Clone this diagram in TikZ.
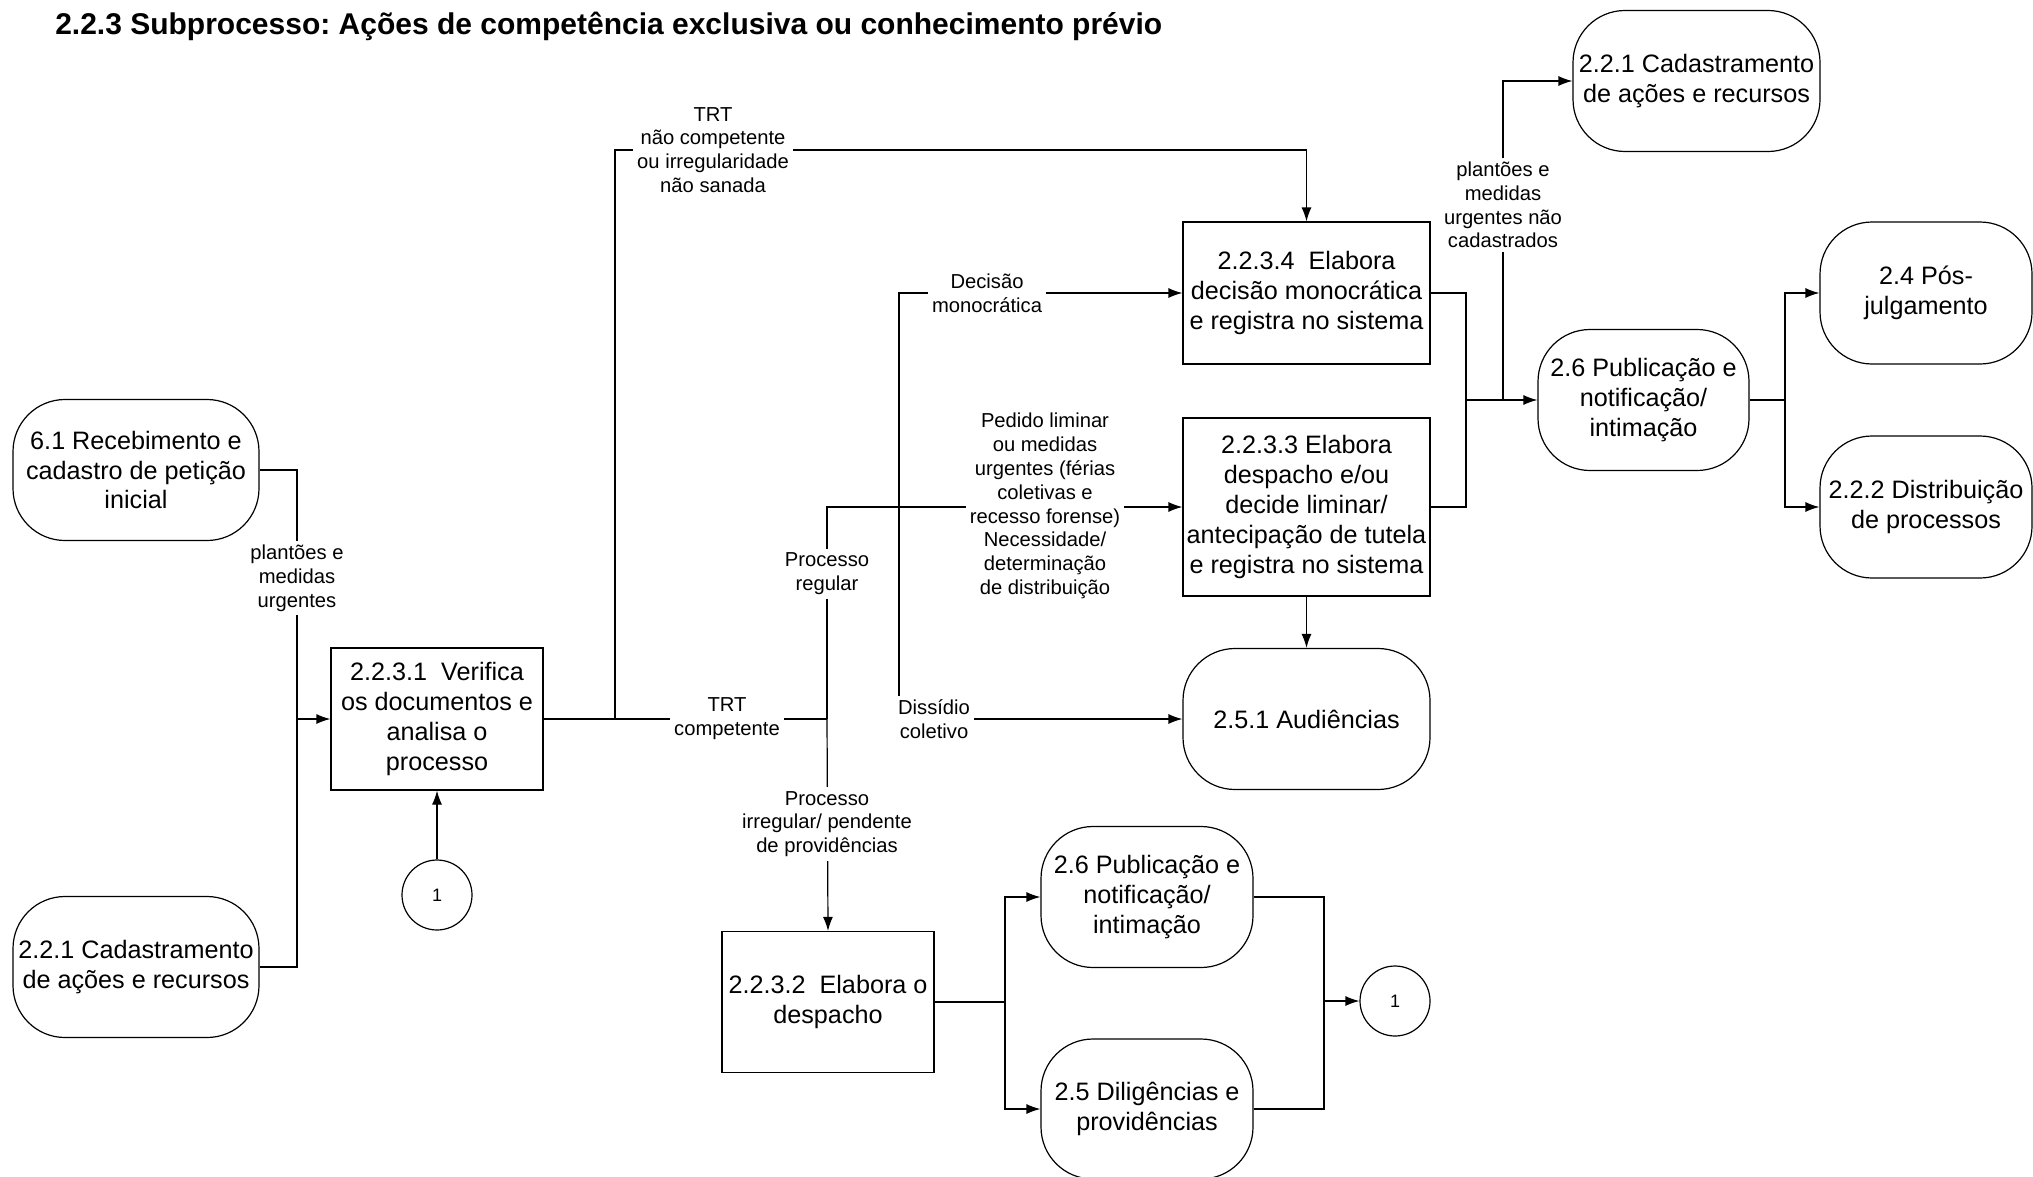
\documentclass[tikz,border=0pt]{standalone}
\usepackage{fontspec}
\setmainfont{Liberation Sans}
\usetikzlibrary{arrows.meta}
\frenchspacing
\begin{document}
\begin{tikzpicture}[x=0.5pt,y=-0.5pt,>={Latex[length=7pt,width=5pt]},line width=0.6pt,
    box/.style={draw,fill=white,align=center,inner sep=1pt,font=\fontsize{12.6}{14.9}\selectfont},
    task/.style={box,rectangle},
    ext/.style={box,rounded corners=26pt},
    link/.style={draw,circle,minimum size=35pt,inner sep=0pt,font=\fontsize{9}{11}\selectfont},
    lbl/.style={fill=white,align=center,inner sep=2pt,font=\fontsize{10.1}{11.9}\selectfont}]
    \useasboundingbox (0,0) rectangle (2033,1177);
    \fill[white] (0,0) rectangle (2033,1177);
    \node[anchor=west,font=\bfseries\fontsize{15}{18}\selectfont] (title) at (48,26) {2.2.3 Subprocesso: Ações de competência exclusiva ou conhecimento prévio};
    \node[ext,minimum width=123pt,minimum height=70.5pt] (rec) at (136,470) {6.1 Recebimento e\\cadastro de petição\\inicial};
    \node[ext,minimum width=123pt,minimum height=70.5pt] (cadL) at (136,967) {2.2.1 Cadastramento\\de ações e recursos};
    \node[task,minimum width=106pt,minimum height=71pt] (verif) at (437,719) {2.2.3.1~~Verifica\\os documentos e\\analisa o\\processo};
    \node[link] (um1) at (437,895) {1};
    \node[task,minimum width=106pt,minimum height=70.5pt] (desp) at (828,1002) {2.2.3.2~~Elabora o\\despacho};
    \node[ext,minimum width=106pt,minimum height=70.5pt] (pubB) at (1147,897) {2.6 Publicação e\\notificação/\\intimação};
    \node[ext,minimum width=106pt,minimum height=70pt] (dilig) at (1147,1109) {2.5 Diligências e\\providências};
    \node[link] (um2) at (1395,1001) {1};
    \node[ext,minimum width=123.5pt,minimum height=70.5pt] (aud) at (1306.5,719) {2.5.1 Audiências};
    \node[task,minimum width=123.5pt,minimum height=89pt] (liminar) at (1306.5,507) {2.2.3.3 Elabora\\despacho e/ou\\decide liminar/\\antecipação de tutela\\e registra no sistema};
    \node[task,minimum width=123.5pt,minimum height=71pt] (decis) at (1306.5,293) {2.2.3.4~~Elabora\\decisão monocrática\\e registra no sistema};
    \node[ext,minimum width=123.5pt,minimum height=70.5pt] (cadR) at (1696.5,81) {2.2.1 Cadastramento\\de ações e recursos};
    \node[ext,minimum width=105.5pt,minimum height=70.5pt] (pubR) at (1643.5,400) {2.6 Publicação e\\notificação/\\intimação};
    \node[ext,minimum width=106pt,minimum height=71pt] (pos) at (1926,293) {2.4 Pós-\\julgamento};
    \node[ext,minimum width=106pt,minimum height=71pt] (distr) at (1926,507) {2.2.2 Distribuição\\de processos};
    \coordinate (jl) at (297,719);
    \coordinate (jt) at (615,719);
    \coordinate (jc) at (827,719);
    \coordinate (jd) at (899,719);
    \coordinate (ktop) at (1306.5,150);
    \coordinate (jr) at (1466,400);
    \coordinate (jp) at (1503,400);
    \coordinate (jq) at (1785,400);
    \coordinate (jb) at (1005,1002);
    \coordinate (jo) at (1324,1001);
    \draw (rec.east) -| (jl) |- (cadL.east);
    \draw[->] (jl) -- (verif.west);
    \draw (verif.east) -- (jc);
    \draw[->] (jt) |- (ktop) -- (decis.north);
    \draw[->] (jc) |- (liminar.west);
    \draw[->] (jc) -- (desp.north);
    \draw[->] (jd) -- (aud.west);
    \draw[->] (jd) |- (decis.west);
    \draw[->] (liminar.south) -- (aud.north);
    \draw (decis.east) -| (jr) |- (liminar.east);
    \draw[->] (jr) -- (pubR.west);
    \draw[->] (jp) |- (cadR.west);
    \draw (pubR.east) -- (jq);
    \draw[->] (jq) |- (pos.west);
    \draw[->] (jq) |- (distr.west);
    \draw (desp.east) -- (jb);
    \draw[->] (jb) |- (pubB.west);
    \draw[->] (jb) |- (dilig.west);
    \draw (pubB.east) -| (jo) |- (dilig.east);
    \draw[->] (jo) -- (um2.west);
    \draw[->] (um1.north) -- (verif.south);
    \node[lbl] (lplant) at (297,578) {plantões e\\medidas\\urgentes};
    \node[lbl] (lnaocomp) at (713,150) {TRT\\não competente\\ou irregularidade\\não sanada};
    \node[lbl] (lmono) at (987,293) {Decisão\\monocrática};
    \node[lbl] (lpedido) at (1045,506) {Pedido liminar\\ou medidas\\urgentes (férias\\coletivas e\\recesso forense)\\Necessidade/\\determinação\\de distribuição};
    \node[lbl] (lregular) at (827,574) {Processo\\regular};
    \node[lbl] (lcomp) at (727,719) {TRT\\competente};
    \node[lbl] (ldiss) at (934,719) {Dissídio\\coletivo};
    \node[lbl] (lirreg) at (827,824) {Processo\\irregular/ pendente\\de providências};
    \node[lbl] (lcadastr) at (1503,205) {plantões e\\medidas\\urgentes não\\cadastrados};
\end{tikzpicture}
\end{document}
